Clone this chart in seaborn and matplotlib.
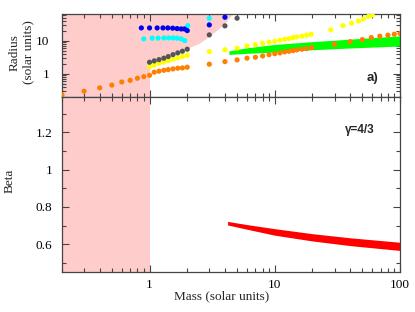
import numpy as np
import pandas as pd
import seaborn as sns
import matplotlib
matplotlib.use("Agg")
import matplotlib.pyplot as plt
from matplotlib.ticker import LogLocator, FixedLocator, FixedFormatter, MultipleLocator, NullFormatter

# ---- data ----
# orange: low-mass sequence
orange_m = [0.2, 0.3, 0.4, 0.5, 0.6, 0.7, 0.8, 0.9, 1.0,
            1.09, 1.19, 1.30, 1.41, 1.54, 1.68, 1.83, 2.0,
            3, 4, 5, 6, 7, 8, 9, 10, 11, 12, 13, 14, 15, 16.5, 18, 19.8,
            30, 40, 50, 59, 69, 80, 90, 100]
orange_r = [0.23, 0.30, 0.38, 0.46, 0.57, 0.64, 0.74, 0.83, 0.91,
            1.13, 1.21, 1.29, 1.35, 1.42, 1.49, 1.52, 1.60,
            1.97, 2.36, 2.66, 3.0, 3.2, 3.5, 3.84, 4.1, 4.33, 4.64, 4.87, 5.08, 5.34, 5.6, 5.85, 6.27,
            7.9, 9.5, 11.0, 12.6, 13.9, 14.9, 15.9, 16.7]

yellow_m = [1.0, 1.09, 1.19, 1.30, 1.41, 1.54, 1.68, 1.83, 2.0,
            3, 4, 5, 6, 7, 8, 9, 10, 11, 12, 13, 14, 15, 16.5, 18, 19.5,
            28, 35, 41, 46.5, 51, 56, 60]
yellow_r = [1.66, 1.87, 2.11, 2.31, 2.53, 2.79, 3.05, 3.34, 3.68,
            4.74, 5.4, 6.0, 7.05, 7.7, 8.5, 9.1, 9.8, 10.5, 11.2, 11.7, 12.6, 13.2, 13.9, 14.9, 15.9,
            21.6, 29, 34.3, 40, 46, 54.7, 61]

grey_m = [1.0, 1.09, 1.19, 1.30, 1.41, 1.54, 1.68, 1.83, 2.0, 3, 4, 5]
grey_r = [2.26, 2.48, 2.71, 2.99, 3.35, 3.84, 4.33, 4.87, 5.6, 15.2, 28.5, 48.6]

cyan_m = [0.90, 1.05, 1.17, 1.30, 1.42, 1.54, 1.66, 1.79, 1.91, 2.02, 3.0]
cyan_r = [11.5, 12.1, 12.1, 12.3, 12.3, 12.3, 12.1, 11.5, 10.2, 29, 48.6]

blue_m = [0.86, 1.0, 1.15, 1.28, 1.40, 1.53, 1.66, 1.79, 1.90, 2.0, 3.0, 4.0]
blue_r = [24.7, 24.7, 24.7, 24.7, 24.7, 24.3, 23.6, 23.0, 23.0, 20.5, 30.5, 52]

# green band (edges of the dense model strip)
green_m = [4.3, 6, 10, 20, 40, 100]
green_lo = [3.9, 4.2, 4.6, 5.4, 6.1, 7.0]
green_hi = [5.0, 6.2, 7.8, 9.5, 11.3, 14.2]

# red band, bottom panel (beta)
red_m = [4.2, 6, 10, 20, 40, 100]
red_lo = [0.703, 0.68, 0.648, 0.617, 0.592, 0.566]
red_hi = [0.722, 0.705, 0.683, 0.656, 0.634, 0.610]

# forbidden (pink) region boundary in the radius panel
pink_m = [0.2, 1.0, 1.0, 1.5, 2.0, 2.5, 3.0, 3.5, 4.0, 4.7]
pink_r = [0.2, 0.2, 2.1, 3.6, 6.0, 8.5, 14.0, 22.0, 35.0, 70.0]

xticks = [1, 10, 100]
xticklabels = ["1", "10", "100"]
rticks = [1, 10]
rticklabels = ["1", "10"]
bticks = [0.6, 0.8, 1.0, 1.2]
bticklabels = ["0.6", "0.8", "1", "1.2"]

sns.set_style("ticks")
plt.rcParams['font.family'] = ['Liberation Serif', 'DejaVu Serif']
plt.rcParams['axes.edgecolor'] = '#444444'
plt.rcParams['xtick.color'] = '#444444'
plt.rcParams['ytick.color'] = '#444444'
plt.rcParams['xtick.labelcolor'] = 'black'
plt.rcParams['ytick.labelcolor'] = 'black'

fig = plt.figure(figsize=(4.15, 3.12), dpi=100)
ax1 = fig.add_axes([0.1494, 0.689, 0.8145, 0.266])
ax2 = fig.add_axes([0.1494, 0.128, 0.8145, 0.561], sharex=ax1)

pink = '#ffcccc'
xmin, xmax = 0.2, 100
rmin, rmax = 0.2, 65

# top panel
ax1.fill_between(pink_m, pink_r, rmax, color=pink, lw=0, zorder=0)
ax1.fill_between(green_m, green_lo, green_hi, color='#00ff00', lw=0, zorder=1)
dots = [(orange_m, orange_r, '#ff7f00'), (yellow_m, yellow_r, '#ffff00'),
        (grey_m, grey_r, '#555555'), (cyan_m, cyan_r, '#00ffff'),
        (blue_m, blue_r, '#0000ee')]
for m, r, c in dots:
    sns.scatterplot(x=m, y=r, color=c, s=14, edgecolor='none', linewidth=0, ax=ax1, zorder=3)

# bottom panel
ax2.axvspan(xmin, 1.0, color=pink, lw=0, zorder=0)
ax2.fill_between(red_m, red_lo, red_hi, color='#ff0000', lw=0, zorder=2)

for ax in (ax1, ax2):
    ax.set_xscale('log')
    ax.set_xlim(xmin, xmax)
    ax.tick_params(which='both', direction='in', top=True, right=True, width=0.8)
    ax.tick_params(which='major', length=5)
    ax.tick_params(which='minor', length=3)
    for s in ax.spines.values():
        s.set_linewidth(0.9)

ax1.set_yscale('log')
ax1.set_ylim(rmin, rmax)
ax1.yaxis.set_major_locator(FixedLocator(rticks))
ax1.yaxis.set_major_formatter(FixedFormatter(rticklabels))
ax1.yaxis.set_minor_locator(LogLocator(base=10, subs=np.arange(2, 10)))
ax1.yaxis.set_minor_formatter(NullFormatter())
ax1.tick_params(axis='x', labelbottom=False)
ax1.tick_params(axis='y', labelsize=9.5, pad=9)

ax2.set_ylim(0.45, 1.39)
ax2.yaxis.set_major_locator(FixedLocator(bticks))
ax2.yaxis.set_major_formatter(FixedFormatter(bticklabels))
ax2.yaxis.set_minor_locator(MultipleLocator(0.1))
ax2.xaxis.set_major_locator(FixedLocator(xticks))
ax2.xaxis.set_major_formatter(FixedFormatter(xticklabels))
ax2.xaxis.set_minor_locator(LogLocator(base=10, subs=np.arange(2, 10)))
ax2.xaxis.set_minor_formatter(NullFormatter())
ax2.tick_params(axis='y', labelsize=9.5, pad=7)
ax2.tick_params(axis='x', labelsize=9.5, pad=5)

ax1.set_ylabel("Radius\n(solar units)", fontsize=9.5, linespacing=1.1)
ax1.yaxis.set_label_coords(-0.083, 0.54)
ax2.set_ylabel("Beta", fontsize=9.5)
ax2.yaxis.set_label_coords(-0.136, 0.52)
ax2.set_xlabel("Mass (solar units)", fontsize=9.5)
ax2.xaxis.set_label_coords(0.472, -0.103)

ax1.text(0.92, 0.23, "a)", transform=ax1.transAxes, ha='center', va='center',
         fontsize=9.5, fontweight='bold', family=['Liberation Sans', 'DejaVu Sans'])
ax2.text(0.88, 0.81, "γ=4/3", transform=ax2.transAxes, ha='center', va='center',
         fontsize=8.5, fontweight='bold', family=['Liberation Sans', 'DejaVu Sans'])

fig.savefig("out.png", dpi=100)
